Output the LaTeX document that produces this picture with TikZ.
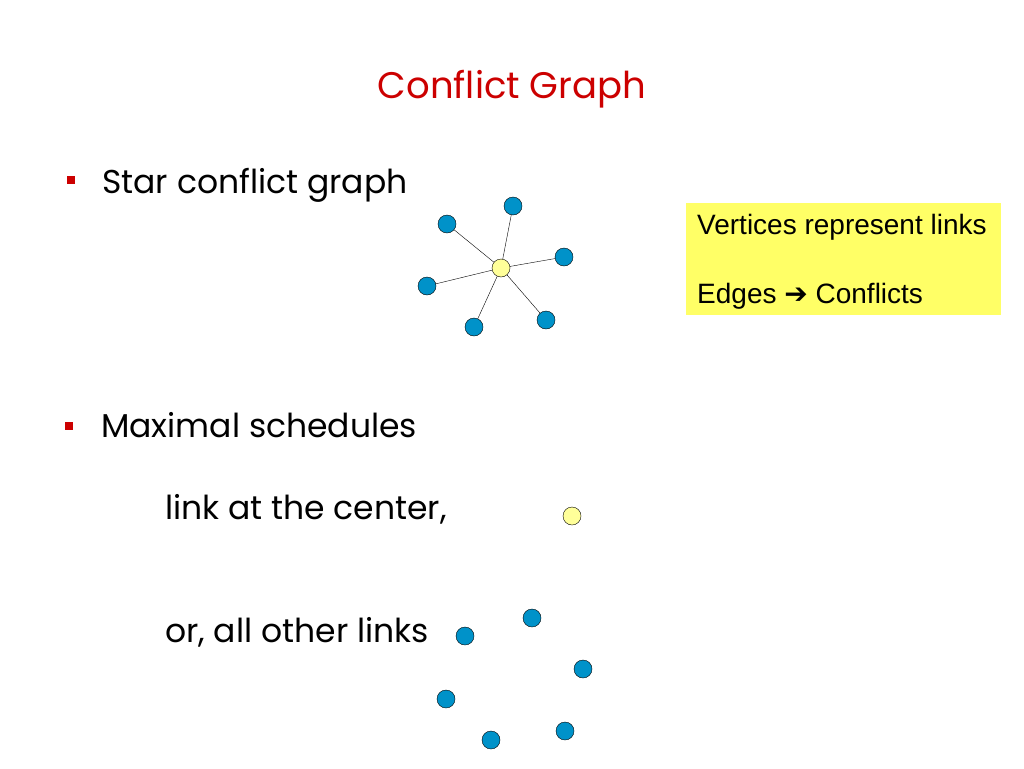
\documentclass[tikz,border=0pt]{standalone}
\usepackage{fontspec}
\setmainfont{Poppins}
\newfontfamily\boxfont{Liberation Sans}
\newfontfamily\symfont{DejaVu Sans}
\usepackage{xcolor}
\usepackage{tikz}
\usetikzlibrary{positioning}

\definecolor{titlered}{RGB}{204,0,0}
\definecolor{linkblue}{RGB}{0,146,201}
\definecolor{hubyellow}{RGB}{255,255,153}
\definecolor{noteyellow}{RGB}{255,255,102}

\tikzset{
    linkdot/.style={circle, draw=black, fill=linkblue, inner sep=0pt, minimum size=18pt},
    hubdot/.style={circle, draw=black, fill=hubyellow, inner sep=0pt, minimum size=18pt},
    bullet/.style={rectangle, fill=titlered, inner sep=0pt, minimum size=8pt},
    slidetext/.style={anchor=base west, inner sep=0pt, font=\fontsize{33}{40}\selectfont},
    notetext/.style={anchor=base west, inner sep=0pt, font=\boxfont\fontsize{28}{34}\selectfont}
}

\begin{document}
\begin{tikzpicture}[x=1pt, y=-1pt]
    \useasboundingbox[fill=white] (0,0) rectangle (1024,768);

    % Title
    \node[anchor=base, inner sep=0pt, text=titlered, font=\fontsize{37}{44}\selectfont] (title) at (512,98) {Conflict Graph};

    % Bullets
    \node[bullet] (b1) at (70.5,180) {};
    \node[slidetext] (star) at (102,193) {Star conflict graph};
    \node[bullet] (b2) at (69,426) {};
    \node[slidetext] (maximal) at (101,437) {Maximal schedules};
    \node[slidetext] (centre) at (165,519) {link at the center,};
    \node[slidetext] (others) at (165,642) {or, all other links};

    % Star conflict graph
    \node[linkdot] (s1) at (447,224) {};
    \node[linkdot] (s2) at (513,206) {};
    \node[linkdot] (s3) at (564,257) {};
    \node[linkdot] (s4) at (546,320) {};
    \node[linkdot] (s5) at (474,327) {};
    \node[linkdot] (s6) at (427,286) {};
    \node[hubdot] (hub) at (501,268) {};
    \foreach \i in {1,...,6}
        \draw (s\i) -- (hub);

    % Note
    \node[fill=noteyellow, minimum width=315pt, minimum height=112pt, inner sep=0pt] (note) at (843.5,259) {};
    \node[notetext] (vert) at (697,234) {Vertices represent links};
    \node[notetext] (edges) at (697,303) {Edges {\symfont\bfseries ➔} Conflicts};

    % Maximal schedules
    \node[hubdot] (m0) at (572,516) {};
    \node[linkdot] (m1) at (465,636) {};
    \node[linkdot] (m2) at (532,618) {};
    \node[linkdot] (m3) at (583,669) {};
    \node[linkdot] (m4) at (446,699) {};
    \node[linkdot] (m5) at (491,740) {};
    \node[linkdot] (m6) at (565,731) {};
\end{tikzpicture}
\end{document}
